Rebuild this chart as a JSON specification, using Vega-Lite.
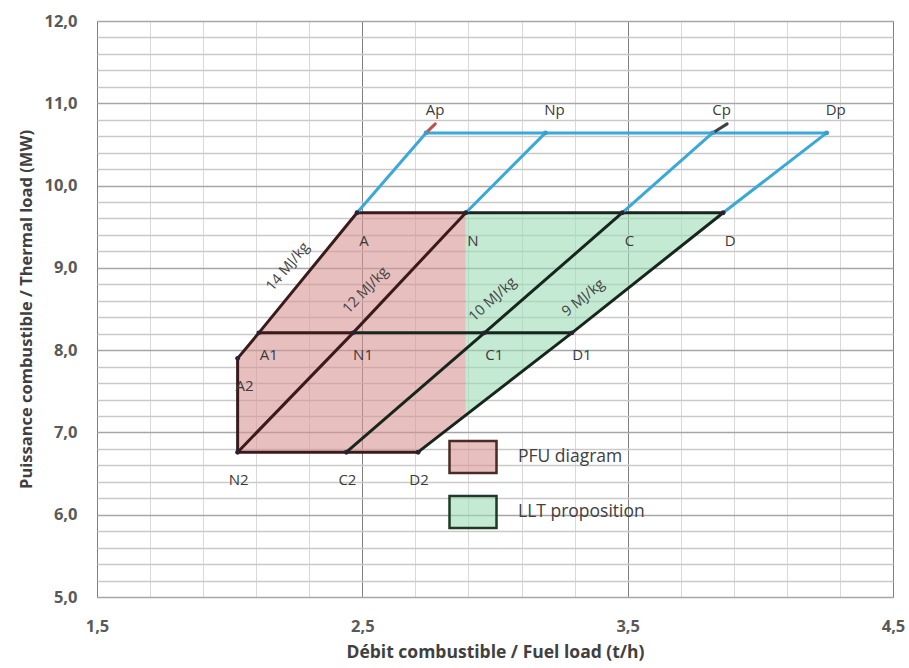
{
  "$schema": "https://vega.github.io/schema/vega-lite/v6.json",
  "width": 796,
  "height": 576,
  "autosize": "none",
  "padding": {"left": 97, "top": 21, "right": 16, "bottom": 71},
  "background": "white",
  "config": {"view": {"stroke": "#a6a6a6", "strokeWidth": 1}, "font": "Open Sans"},
  "datasets": {
    "zones": [
      {"region": "PFU diagram", "y": 6.76, "x": 2.03, "x2": 2.71},
      {"region": "PFU diagram", "y": 7.22, "x": 2.03, "x2": 2.89},
      {"region": "PFU diagram", "y": 7.9, "x": 2.03, "x2": 2.89},
      {"region": "PFU diagram", "y": 9.67, "x": 2.48, "x2": 2.89},
      {"region": "LLT proposition", "y": 7.22, "x": 2.89, "x2": 2.89},
      {"region": "LLT proposition", "y": 9.67, "x": 2.89, "x2": 3.86}
    ],
    "segs": [
      {"id": "l14", "zone": "pfu", "ord": 1, "x": 2.03, "y": 7.9},
      {"id": "l14", "zone": "pfu", "ord": 2, "x": 2.11, "y": 8.21},
      {"id": "l14", "zone": "pfu", "ord": 3, "x": 2.48, "y": 9.67},
      {"id": "l12", "zone": "pfu", "ord": 1, "x": 2.03, "y": 6.76},
      {"id": "l12", "zone": "pfu", "ord": 2, "x": 2.465, "y": 8.21},
      {"id": "l12", "zone": "pfu", "ord": 3, "x": 2.89, "y": 9.67},
      {"id": "l10", "zone": "llt", "ord": 1, "x": 2.44, "y": 6.76},
      {"id": "l10", "zone": "llt", "ord": 2, "x": 2.96, "y": 8.21},
      {"id": "l10", "zone": "llt", "ord": 3, "x": 3.48, "y": 9.67},
      {"id": "l9", "zone": "llt", "ord": 1, "x": 2.71, "y": 6.76},
      {"id": "l9", "zone": "llt", "ord": 2, "x": 3.29, "y": 8.21},
      {"id": "l9", "zone": "llt", "ord": 3, "x": 3.86, "y": 9.67},
      {"id": "top1", "zone": "pfu", "ord": 1, "x": 2.48, "y": 9.67},
      {"id": "top1", "zone": "pfu", "ord": 2, "x": 2.89, "y": 9.67},
      {"id": "top2", "zone": "llt", "ord": 1, "x": 2.89, "y": 9.67},
      {"id": "top2", "zone": "llt", "ord": 2, "x": 3.86, "y": 9.67},
      {"id": "mid1", "zone": "pfu", "ord": 1, "x": 2.11, "y": 8.21},
      {"id": "mid1", "zone": "pfu", "ord": 2, "x": 2.465, "y": 8.21},
      {"id": "mid2", "zone": "llt", "ord": 1, "x": 2.465, "y": 8.21},
      {"id": "mid2", "zone": "llt", "ord": 2, "x": 3.29, "y": 8.21},
      {"id": "bot", "zone": "pfu", "ord": 1, "x": 2.03, "y": 6.76},
      {"id": "bot", "zone": "pfu", "ord": 2, "x": 2.71, "y": 6.76},
      {"id": "vert", "zone": "pfu", "ord": 1, "x": 2.03, "y": 7.9},
      {"id": "vert", "zone": "pfu", "ord": 2, "x": 2.03, "y": 6.76},
      {"id": "bA", "zone": "ext", "ord": 1, "x": 2.48, "y": 9.67},
      {"id": "bA", "zone": "ext", "ord": 2, "x": 2.74, "y": 10.64},
      {"id": "bN", "zone": "ext", "ord": 1, "x": 2.89, "y": 9.67},
      {"id": "bN", "zone": "ext", "ord": 2, "x": 3.19, "y": 10.64},
      {"id": "bC", "zone": "ext", "ord": 1, "x": 3.48, "y": 9.67},
      {"id": "bC", "zone": "ext", "ord": 2, "x": 3.82, "y": 10.64},
      {"id": "bD", "zone": "ext", "ord": 1, "x": 3.86, "y": 9.67},
      {"id": "bD", "zone": "ext", "ord": 2, "x": 4.25, "y": 10.64},
      {"id": "bTop", "zone": "ext", "ord": 1, "x": 2.74, "y": 10.64},
      {"id": "bTop", "zone": "ext", "ord": 2, "x": 4.25, "y": 10.64},
      {"id": "tA", "zone": "tickA", "ord": 1, "x": 2.74, "y": 10.64},
      {"id": "tA", "zone": "tickA", "ord": 2, "x": 2.775, "y": 10.75},
      {"id": "tC", "zone": "tickC", "ord": 1, "x": 3.82, "y": 10.64},
      {"id": "tC", "zone": "tickC", "ord": 2, "x": 3.875, "y": 10.75}
    ],
    "pts": [
      {"name": "A", "level": "top", "x": 2.48, "y": 9.67},
      {"name": "N", "level": "top", "x": 2.89, "y": 9.67},
      {"name": "C", "level": "top", "x": 3.48, "y": 9.67},
      {"name": "D", "level": "top", "x": 3.86, "y": 9.67},
      {"name": "Ap", "level": "p", "x": 2.74, "y": 10.64},
      {"name": "Np", "level": "p", "x": 3.19, "y": 10.64},
      {"name": "Cp", "level": "p", "x": 3.82, "y": 10.64},
      {"name": "Dp", "level": "p", "x": 4.25, "y": 10.64},
      {"name": "A1", "level": "mid", "x": 2.11, "y": 8.21},
      {"name": "N1", "level": "mid", "x": 2.465, "y": 8.21},
      {"name": "C1", "level": "mid", "x": 2.96, "y": 8.21},
      {"name": "D1", "level": "mid", "x": 3.29, "y": 8.21},
      {"name": "A2", "level": "top", "x": 2.03, "y": 7.9},
      {"name": "N2", "level": "bot", "x": 2.03, "y": 6.76},
      {"name": "C2", "level": "bot", "x": 2.44, "y": 6.76},
      {"name": "D2", "level": "bot", "x": 2.71, "y": 6.76}
    ],
    "mj": [
      {"label": "14 MJ/kg", "mj": 14, "x": 2.275, "y": 8.863},
      {"label": "12 MJ/kg", "mj": 12, "x": 2.565, "y": 8.564},
      {"label": "10 MJ/kg", "mj": 10, "x": 3.04, "y": 8.441},
      {"label": "9 MJ/kg", "mj": 9, "x": 3.379, "y": 8.452}
    ]
  },
  "encoding": {
    "x": {
      "field": "x",
      "type": "quantitative",
      "scale": {"domain": [1.5, 4.5], "nice": false, "zero": false},
      "axis": {
        "title": "Débit combustible / Fuel load (t/h)",
        "values": [1.5, 1.7, 1.9, 2.1, 2.3, 2.5, 2.7, 2.9, 3.1, 3.3, 3.5, 3.7, 3.9, 4.1, 4.3, 4.5],
        "labelExpr": "round(datum.value*10) % 10 == 5 ? replace(format(datum.value, '.1f'), '.', ',') : ''",
        "ticks": false,
        "domain": false,
        "labelOverlap": false,
        "labelFlush": false,
        "labelPadding": 21,
        "labelBaseline": "top",
        "labelFont": "Open Sans",
        "labelFontSize": 16.5,
        "labelFontWeight": "bold",
        "labelColor": "#595959",
        "titleFont": "Open Sans",
        "titleFontSize": 17.5,
        "titleFontWeight": "bold",
        "titleColor": "#404040",
        "titlePadding": 9,
        "gridWidth": 1,
        "gridOpacity": 1,
        "gridColor": {"condition": {"test": "round(datum.value*10) % 10 == 5", "value": "#7f7f7f"}, "value": "#d9d9d9"}
      }
    },
    "y": {
      "field": "y",
      "type": "quantitative",
      "scale": {"domain": [5, 12], "nice": false, "zero": false},
      "axis": {
        "title": "Puissance combustible / Thermal load (MW)",
        "values": [5, 5.2, 5.4, 5.6, 5.8, 6, 6.2, 6.4, 6.6, 6.8, 7, 7.2, 7.4, 7.6, 7.8, 8, 8.2, 8.4, 8.6, 8.8, 9, 9.2, 9.4, 9.6, 9.8, 10, 10.2, 10.4, 10.6, 10.8, 11, 11.2, 11.4, 11.6, 11.8, 12],
        "labelExpr": "round(datum.value*10) % 10 == 0 ? replace(format(datum.value, '.1f'), '.', ',') : ''",
        "ticks": false,
        "domain": false,
        "labelOverlap": false,
        "labelFlush": false,
        "labelPadding": 20,
        "labelFont": "Open Sans",
        "labelFontSize": 16.5,
        "labelFontWeight": "bold",
        "labelColor": "#595959",
        "titleFont": "Open Sans",
        "titleFontSize": 16.5,
        "titleFontWeight": "bold",
        "titleColor": "#404040",
        "titlePadding": 9,
        "gridWidth": 1.3,
        "gridOpacity": 1,
        "gridColor": {"condition": {"test": "round(datum.value*10) % 10 == 0", "value": "#a6a6a6"}, "value": "#c9c9c9"}
      }
    }
  },
  "layer": [
    {
      "data": {"name": "zones"},
      "mark": {"type": "area", "orient": "horizontal", "fillOpacity": 0.6, "strokeWidth": 0},
      "encoding": {
        "x2": {"field": "x2"},
        "fill": {
          "field": "region",
          "type": "nominal",
          "scale": {"domain": ["PFU diagram", "LLT proposition"], "range": ["#d99594", "#9ddcb7"]},
          "legend": {
            "orient": "none",
            "legendX": 351,
            "legendY": 411,
            "title": null,
            "padding": 0,
            "symbolType": "M-1,-0.68H1V0.68H-1Z",
            "symbolSize": 2209,
            "symbolStrokeWidth": 2.5,
            "rowPadding": 9,
            "labelOffset": 20,
            "labelFont": "Open Sans",
            "labelFontSize": 17.5,
            "labelColor": "#404040",
            "encode": {
              "symbols": {
                "update": {
                  "stroke": {"signal": "datum.value === 'PFU diagram' ? '#4a2a22' : '#1e3a24'"},
                  "fillOpacity": {"value": 0.6},
                  "opacity": {"value": 1}
                }
              }
            }
          }
        },
        "detail": {"field": "region"}
      }
    },
    {
      "data": {"name": "segs"},
      "mark": {"type": "line", "strokeWidth": 3, "strokeCap": "round"},
      "encoding": {
        "detail": {"field": "id"},
        "order": {"field": "ord"},
        "stroke": {
          "field": "zone",
          "type": "nominal",
          "scale": {"domain": ["pfu", "llt", "ext", "tickA", "tickC"], "range": ["#3a1a1a", "#17261c", "#3aa8d8", "#c0504d", "#404040"]},
          "legend": null
        }
      }
    },
    {
      "data": {"name": "pts"},
      "mark": {"type": "point", "filled": true, "size": 24, "opacity": 1},
      "encoding": {
        "color": {"condition": {"test": "datum.level === 'p'", "value": "#3f9cc8"}, "value": "#2a2138"}
      }
    },
    {
      "data": {"name": "pts"},
      "transform": [{"filter": "datum.level === 'p'"}],
      "mark": {"type": "text", "dx": 9, "dy": -23, "fontSize": 15, "font": "Open Sans", "color": "#3a3a3a"},
      "encoding": {"text": {"field": "name"}}
    },
    {
      "data": {"name": "pts"},
      "transform": [{"filter": "datum.level === 'top'"}],
      "mark": {"type": "text", "dx": 7, "dy": 28, "fontSize": 15, "font": "Open Sans", "color": "#3a3a3a"},
      "encoding": {"text": {"field": "name"}}
    },
    {
      "data": {"name": "pts"},
      "transform": [{"filter": "datum.level === 'mid'"}],
      "mark": {"type": "text", "dx": 10, "dy": 22, "fontSize": 15, "font": "Open Sans", "color": "#3a3a3a"},
      "encoding": {"text": {"field": "name"}}
    },
    {
      "data": {"name": "pts"},
      "transform": [{"filter": "datum.level === 'bot'"}],
      "mark": {"type": "text", "dx": 1, "dy": 28, "fontSize": 15, "font": "Open Sans", "color": "#3a3a3a"},
      "encoding": {"text": {"field": "name"}}
    },
    {
      "data": {"name": "mj"},
      "mark": {"type": "text", "dy": -19, "align": "center", "baseline": "middle", "fontSize": 14.5, "font": "Open Sans", "color": "#444444"},
      "encoding": {
        "text": {"field": "label"},
        "angle": {
          "field": "mj",
          "type": "quantitative",
          "scale": {"type": "linear", "domain": [9, 10, 12, 14], "range": [-39, -42, -46, -50]},
          "legend": null
        }
      }
    }
  ]
}
